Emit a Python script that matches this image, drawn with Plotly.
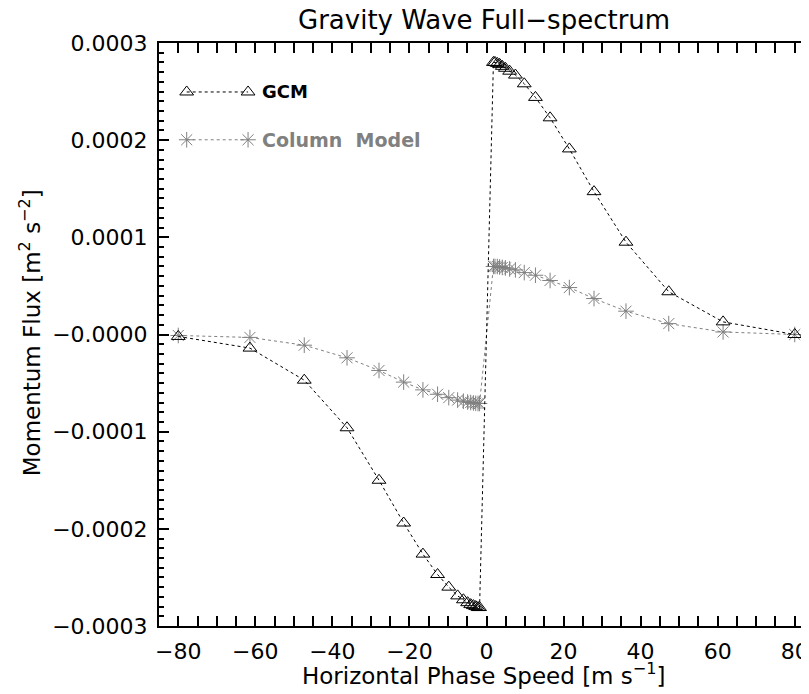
import plotly.graph_objects as go

# ---- data ----
FLUX_SCALE = 1e-4  # values below are in units of 1e-4 m^2 s^-2

phase_speed = [-80, -61.4, -47.3, -36.2, -27.9, -21.5, -16.5, -12.7, -9.8, -7.5, -6.0,
               -4.9, -4.1, -3.4, -2.8, -2.2, -1.8,
               1.8, 2.2, 2.8, 3.4, 4.1, 4.9, 6.0, 7.5, 9.8, 12.7, 16.5, 21.5, 27.9,
               36.2, 47.3, 61.4, 80]

gcm_flux = [-0.02, -0.14, -0.47, -0.96, -1.50, -1.94, -2.26, -2.47, -2.60, -2.69, -2.73,
            -2.76, -2.78, -2.79, -2.80, -2.81, -2.81,
            2.80, 2.80, 2.79, 2.78, 2.76, 2.74, 2.71, 2.67, 2.58, 2.44, 2.23, 1.91, 1.47,
            0.95, 0.44, 0.13, 0.0]

column_flux = [-0.01, -0.03, -0.11, -0.24, -0.37, -0.49, -0.57, -0.615, -0.65, -0.675, -0.687,
               -0.695, -0.70, -0.705, -0.708, -0.71, -0.71,
               0.70, 0.70, 0.70, 0.695, 0.69, 0.685, 0.675, 0.665, 0.637, 0.61, 0.556, 0.483,
               0.37, 0.24, 0.112, 0.026, 0.0]

y_tick_vals = [-0.0003, -0.0002, -0.0001, 0.0, 0.0001, 0.0002, 0.0003]
y_tick_text = ["\u22120.0003", "\u22120.0002", "\u22120.0001", "\u22120.0000",
               "0.0001", "0.0002", "0.0003"]
x_tick_vals = [-80, -60, -40, -20, 0, 20, 40, 60, 80]

series_names = ["GCM", "Column  Model"]

# ---- styling ----
FONT = "DejaVu Sans"
GRAY = "#808080"
BLACK = "#000000"

gcm_y = [v * FLUX_SCALE for v in gcm_flux]
col_y = [v * FLUX_SCALE for v in column_flux]

fig = go.Figure()

fig.add_trace(go.Scatter(
    x=phase_speed, y=col_y, mode="lines+markers",
    line=dict(color=GRAY, width=1, dash="dot"),
    marker=dict(symbol="asterisk-open", size=13, color=GRAY, line=dict(color=GRAY, width=1)),
    showlegend=False, name=series_names[1]))

fig.add_trace(go.Scatter(
    x=phase_speed, y=gcm_y, mode="lines+markers",
    line=dict(color=BLACK, width=1, dash="dot"),
    marker=dict(symbol="triangle-up-open", size=12, color=BLACK, line=dict(color=BLACK, width=1)),
    showlegend=False, name=series_names[0]))

# right-hand axis ticks (axis itself lies just beyond the image edge)
fig.add_trace(go.Scatter(x=[], y=[], xaxis="x", yaxis="y2", showlegend=False))

# legend drawn on an overlay axis in plot-fraction coordinates
leg_x = [0.0426, 0.137]
leg_y_gcm = 0.916
leg_y_col = 0.834
fig.add_trace(go.Scatter(
    x=leg_x, y=[leg_y_gcm, leg_y_gcm], xaxis="x3", yaxis="y3", mode="lines+markers",
    line=dict(color=BLACK, width=1, dash="dot"),
    marker=dict(symbol="triangle-up-open", size=12, color=BLACK, line=dict(color=BLACK, width=1)),
    showlegend=False, hoverinfo="skip"))
fig.add_trace(go.Scatter(
    x=leg_x, y=[leg_y_col, leg_y_col], xaxis="x3", yaxis="y3", mode="lines+markers",
    line=dict(color=GRAY, width=1, dash="dot"),
    marker=dict(symbol="asterisk-open", size=13, color=GRAY, line=dict(color=GRAY, width=1)),
    showlegend=False, hoverinfo="skip"))

fig.add_annotation(xref="x3", yref="y3", x=0.155, y=leg_y_gcm, text="<b>" + series_names[0] + "</b>",
                   showarrow=False, xanchor="left", yanchor="middle",
                   font=dict(family=FONT, size=18, color=BLACK))
fig.add_annotation(xref="x3", yref="y3", x=0.155, y=leg_y_col,
                   text="<b>" + series_names[1].replace("  ", "&nbsp; ") + "</b>",
                   showarrow=False, xanchor="left", yanchor="middle",
                   font=dict(family=FONT, size=19, color=GRAY))

# titles
fig.add_annotation(xref="paper", yref="paper", x=0.5, y=1.04,
                   text="Gravity Wave Full\u2212spectrum", showarrow=False,
                   xanchor="center", yanchor="middle", font=dict(family=FONT, size=26, color=BLACK))
fig.add_annotation(xref="paper", yref="paper", x=0.5, y=-0.082,
                   text="Horizontal Phase Speed [m s<sup>\u22121</sup>]", showarrow=False,
                   xanchor="center", yanchor="middle", font=dict(family=FONT, size=23, color=BLACK))
fig.add_annotation(xref="paper", yref="paper", x=-0.198, y=0.5026, textangle=-90,
                   text="Momentum Flux [m<sup>2</sup> s<sup>\u22122</sup>]", showarrow=False,
                   xanchor="center", yanchor="middle", font=dict(family=FONT, size=23, color=BLACK))

axis_common = dict(showgrid=False, zeroline=False, showline=True, linecolor=BLACK, linewidth=2,
                   ticks="inside", ticklen=10, tickwidth=2, tickcolor=BLACK, automargin=False,
                   tickfont=dict(family=FONT, size=22, color=BLACK))

# the page adds an 8px body margin, so the figure is offset to line up with the reference
fig.update_layout(
    width=801, height=686,
    margin=dict(l=151, r=0, t=35, b=68, autoexpand=False),
    plot_bgcolor="white", paper_bgcolor="white",
    xaxis=dict(range=[-85, 83.7], tickvals=x_tick_vals, mirror="allticks",
               minor=dict(dtick=5, ticklen=5, tickwidth=2, tickcolor=BLACK, ticks="inside"),
               ticklabelstandoff=5, **axis_common),
    yaxis=dict(range=[-0.0003, 0.0003], tickvals=y_tick_vals, ticktext=y_tick_text, mirror=False,
               minor=dict(dtick=0.00001, ticklen=5, tickwidth=2, tickcolor=BLACK, ticks="inside"),
               ticklabelstandoff=5, **axis_common),
    yaxis2=dict(range=[-0.0003, 0.0003], overlaying="y", side="right", anchor="x",
                showgrid=False, zeroline=False, showline=False, showticklabels=False, automargin=False,
                ticks="inside", ticklen=5, tickwidth=2, tickcolor=BLACK, tickvals=y_tick_vals,
                minor=dict(dtick=0.00001, ticklen=2, tickwidth=2, tickcolor=BLACK, ticks="inside")),
    xaxis3=dict(range=[0, 1], overlaying="x", visible=False, anchor="y3"),
    yaxis3=dict(range=[0, 1], overlaying="y", visible=False, anchor="x3"),
)

fig.write_html("out.html")
